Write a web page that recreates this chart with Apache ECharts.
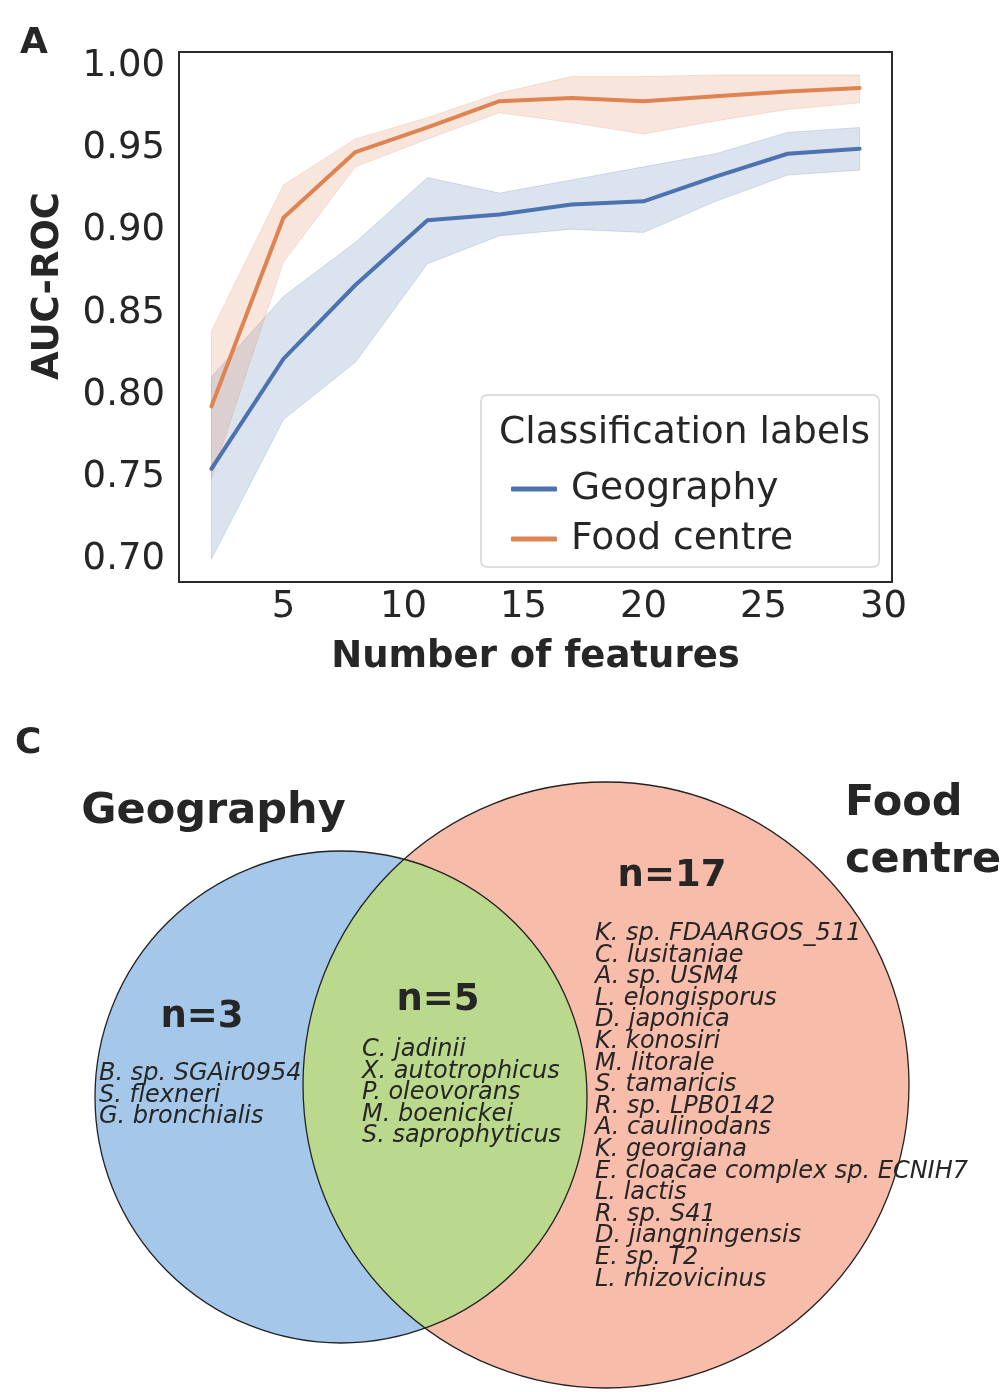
<!DOCTYPE html>
<html><head><meta charset="utf-8">
<script src="https://cdn.jsdelivr.net/npm/echarts@6/dist/echarts.min.js"></script>
<style>html,body{margin:0;padding:0;background:#fff}#c{width:1003px;height:1392px}</style>
</head><body><div id="c"></div>
<script>
// ---- Panel A data ----
const nFeatures = [2, 5, 8, 11, 14, 17, 20, 23, 26, 29];
const geoMean  = [0.755, 0.822, 0.867, 0.9065, 0.910, 0.916, 0.918, 0.933, 0.947, 0.950];
const geoLow   = [0.700, 0.785, 0.820, 0.880, 0.897, 0.901, 0.899, 0.918, 0.934, 0.937];
const geoHigh  = [0.811, 0.860, 0.893, 0.9325, 0.923, 0.931, 0.939, 0.947, 0.960, 0.963];
const foodMean = [0.793, 0.908, 0.948, 0.963, 0.979, 0.981, 0.979, 0.982, 0.985, 0.987];
const foodLow  = [0.749, 0.881, 0.939, 0.956, 0.972, 0.966, 0.959, 0.967, 0.974, 0.978];
const foodHigh = [0.839, 0.928, 0.956, 0.969, 0.984, 0.994, 0.994, 0.995, 0.995, 0.995];
const xTicks = [5, 10, 15, 20, 25, 30];
const yTicks = [0.70, 0.75, 0.80, 0.85, 0.90, 0.95, 1.00];
const seriesNames = ['Geography', 'Food centre'];

// ---- Panel C data ----
const vennSetNames = ['Geography', 'Food centre'];
const onlyGeography = ['B. sp. SGAir0954', 'S. flexneri', 'G. bronchialis'];
const shared = ['C. jadinii', 'X. autotrophicus', 'P. oleovorans', 'M. boenickei', 'S. saprophyticus'];
const onlyFood = ['K. sp. FDAARGOS_511', 'C. lusitaniae', 'A. sp. USM4', 'L. elongisporus', 'D. japonica',
  'K. konosiri', 'M. litorale', 'S. tamaricis', 'R. sp. LPB0142', 'A. caulinodans', 'K. georgiana',
  'E. cloacae complex sp. ECNIH7', 'L. lactis', 'R. sp. S41', 'D. jiangningensis', 'E. sp. T2', 'L. rhizovicinus'];

// layout of the Venn circles (in hidden-grid units)
const vennLayout = { geo: { x: 341, y: 397, r: 246 }, food: { x: 606, y: 385, r: 303 } };

const FONT = 'DejaVu Sans';
const TXT = '#262626';
const BLUE = '#4c72b0', ORANGE = '#dd8452';

const chart = echarts.init(document.getElementById('c'), null, { renderer: 'canvas' });

function bandSeries(name, low, high, color) {
  return {
    type: 'custom', name: name + ' band', xAxisIndex: 0, yAxisIndex: 0, z: 2, silent: true,
    data: nFeatures.map((x, i) => [x, low[i], high[i]]),
    encode: { x: 0, y: [1, 2] },
    renderItem: function (params, api) {
      if (params.dataIndex !== 0) return null;
      const top = nFeatures.map((x, i) => api.coord([x, high[i]]));
      const bot = nFeatures.map((x, i) => api.coord([x, low[i]])).reverse();
      return {
        type: 'polygon', shape: { points: top.concat(bot) },
        style: { fill: color, opacity: 0.2, stroke: color, lineWidth: 1 }
      };
    }
  };
}

function lineSeries(name, mean, color) {
  return {
    type: 'line', name: name, xAxisIndex: 0, yAxisIndex: 0, z: 3,
    data: nFeatures.map((x, i) => [x, mean[i]]),
    showSymbol: false, symbol: 'none',
    lineStyle: { width: 4, color: color, cap: 'round', join: 'round' },
    itemStyle: { color: color }
  };
}

const vennSeries = {
  type: 'custom', xAxisIndex: 1, yAxisIndex: 1, silent: true, z: 2,
  data: [[vennLayout.geo.x, vennLayout.geo.y]],
  renderItem: function (params, api) {
    const g = vennLayout.geo, f = vennLayout.food;
    const A = api.coord([g.x, g.y]), rA = api.size([g.r, 0])[0];
    const B = api.coord([f.x, f.y]), rB = api.size([f.r, 0])[0];
    const dx = B[0] - A[0], dy = B[1] - A[1], d = Math.hypot(dx, dy);
    const a = (rA * rA - rB * rB + d * d) / (2 * d);
    const h = Math.sqrt(rA * rA - a * a);
    const mx = A[0] + a * dx / d, my = A[1] + a * dy / d;
    const p1 = [mx + h * dy / d, my - h * dx / d];
    const p2 = [mx - h * dy / d, my + h * dx / d];
    const lens = 'M' + p1[0] + ',' + p1[1] +
      ' A' + rA + ',' + rA + ' 0 0 1 ' + p2[0] + ',' + p2[1] +
      ' A' + rB + ',' + rB + ' 0 0 1 ' + p1[0] + ',' + p1[1] + ' Z';
    return {
      type: 'group',
      children: [
        { type: 'circle', shape: { cx: A[0], cy: A[1], r: rA }, style: { fill: '#a5c8ea' } },
        { type: 'circle', shape: { cx: B[0], cy: B[1], r: rB }, style: { fill: '#f8bcab' } },
        { type: 'path', shape: { pathData: lens }, style: { fill: '#bbd98c' } },
        { type: 'circle', shape: { cx: A[0], cy: A[1], r: rA }, style: { fill: null, stroke: '#222', lineWidth: 1.3 } },
        { type: 'circle', shape: { cx: B[0], cy: B[1], r: rB }, style: { fill: null, stroke: '#222', lineWidth: 1.3 } }
      ]
    };
  }
};

function txt(text, x, y, font, align, extra) {
  return Object.assign({
    type: 'text', x: x, y: y, z: 100, silent: true,
    style: Object.assign({ text: text, font: font, fill: TXT, align: align || 'left', verticalAlign: 'middle' }, extra && extra.style || {})
  }, extra && extra.el || {});
}

const option = {
  animation: false,
  backgroundColor: '#fff',
  textStyle: { fontFamily: FONT },
  grid: [
    { left: 179, top: 52, width: 713, height: 530, show: true, borderColor: '#2b2b2b', borderWidth: 2, backgroundColor: 'transparent' },
    { left: 0, top: 700, width: 1003, height: 692, show: false }
  ],
  xAxis: [
    { type: 'value', gridIndex: 0, min: 0.65, max: 30.35,
      axisLine: { show: false }, axisTick: { show: false }, splitLine: { show: false },
      axisLabel: { customValues: xTicks, fontSize: 37, color: TXT, fontFamily: FONT, margin: 7 } },
    { type: 'value', gridIndex: 1, min: 0, max: 1003, show: false }
  ],
  yAxis: [
    { type: 'value', gridIndex: 0, min: 0.686, max: 1.009,
      axisLine: { show: false }, axisTick: { show: false }, splitLine: { show: false },
      axisLabel: { customValues: yTicks, fontSize: 37, color: TXT, fontFamily: FONT, margin: 14,
        padding: [6, 0, 0, 0], formatter: v => v.toFixed(2) } },
    { type: 'value', gridIndex: 1, min: 0, max: 692, inverse: true, show: false }
  ],
  legend: {
    data: seriesNames, orient: 'vertical', left: 481, top: 395,
    padding: [74, 86, 8, 30], itemWidth: 46, itemHeight: 5, itemGap: 10, icon: 'roundRect',
    textStyle: { fontSize: 37.6, color: TXT, fontFamily: FONT, lineHeight: 40, padding: [0, 0, 0, 9] },
    borderColor: '#d4d4d4', borderWidth: 1.5, borderRadius: 6, backgroundColor: '#fff',
    selectedMode: false
  },
  series: [
    bandSeries(seriesNames[0], geoLow, geoHigh, BLUE),
    bandSeries(seriesNames[1], foodLow, foodHigh, ORANGE),
    lineSeries(seriesNames[0], geoMean, BLUE),
    lineSeries(seriesNames[1], foodMean, ORANGE),
    vennSeries
  ],
  graphic: [
    txt('A', 20, 44, 'bold 36px ' + FONT),
    txt('AUC-ROC', 48, 286, 'bold 37px ' + FONT, 'center', { el: { rotation: Math.PI / 2 } }),
    txt('Number of features', 535.5, 657, 'bold 37px ' + FONT, 'center'),
    txt('Classification labels', 499, 433, '37.6px ' + FONT),
    txt('C', 15, 744, 'bold 36px ' + FONT),
    txt(vennSetNames[0], 213.5, 812, 'bold 43px ' + FONT, 'center'),
    txt(vennSetNames[1].split(' ')[0], 845, 804, 'bold 43px ' + FONT),
    txt(vennSetNames[1].split(' ')[1], 845, 861, 'bold 43px ' + FONT),
    txt('n=' + onlyGeography.length, 202, 1017, 'bold 37px ' + FONT, 'center'),
    txt('n=' + shared.length, 438, 1000, 'bold 37px ' + FONT, 'center'),
    txt('n=' + onlyFood.length, 672, 876, 'bold 37px ' + FONT, 'center'),
    txt(onlyGeography.join('\n'), 99, 1063, 'italic 24px ' + FONT, 'left', { style: { verticalAlign: 'top', lineHeight: 21.6 } }),
    txt(shared.join('\n'), 362, 1039, 'italic 24px ' + FONT, 'left', { style: { verticalAlign: 'top', lineHeight: 21.6 } }),
    txt(onlyFood.join('\n'), 595, 923, 'italic 24px ' + FONT, 'left', { style: { verticalAlign: 'top', lineHeight: 21.6 } })
  ]
};
chart.setOption(option);
</script></body></html>
